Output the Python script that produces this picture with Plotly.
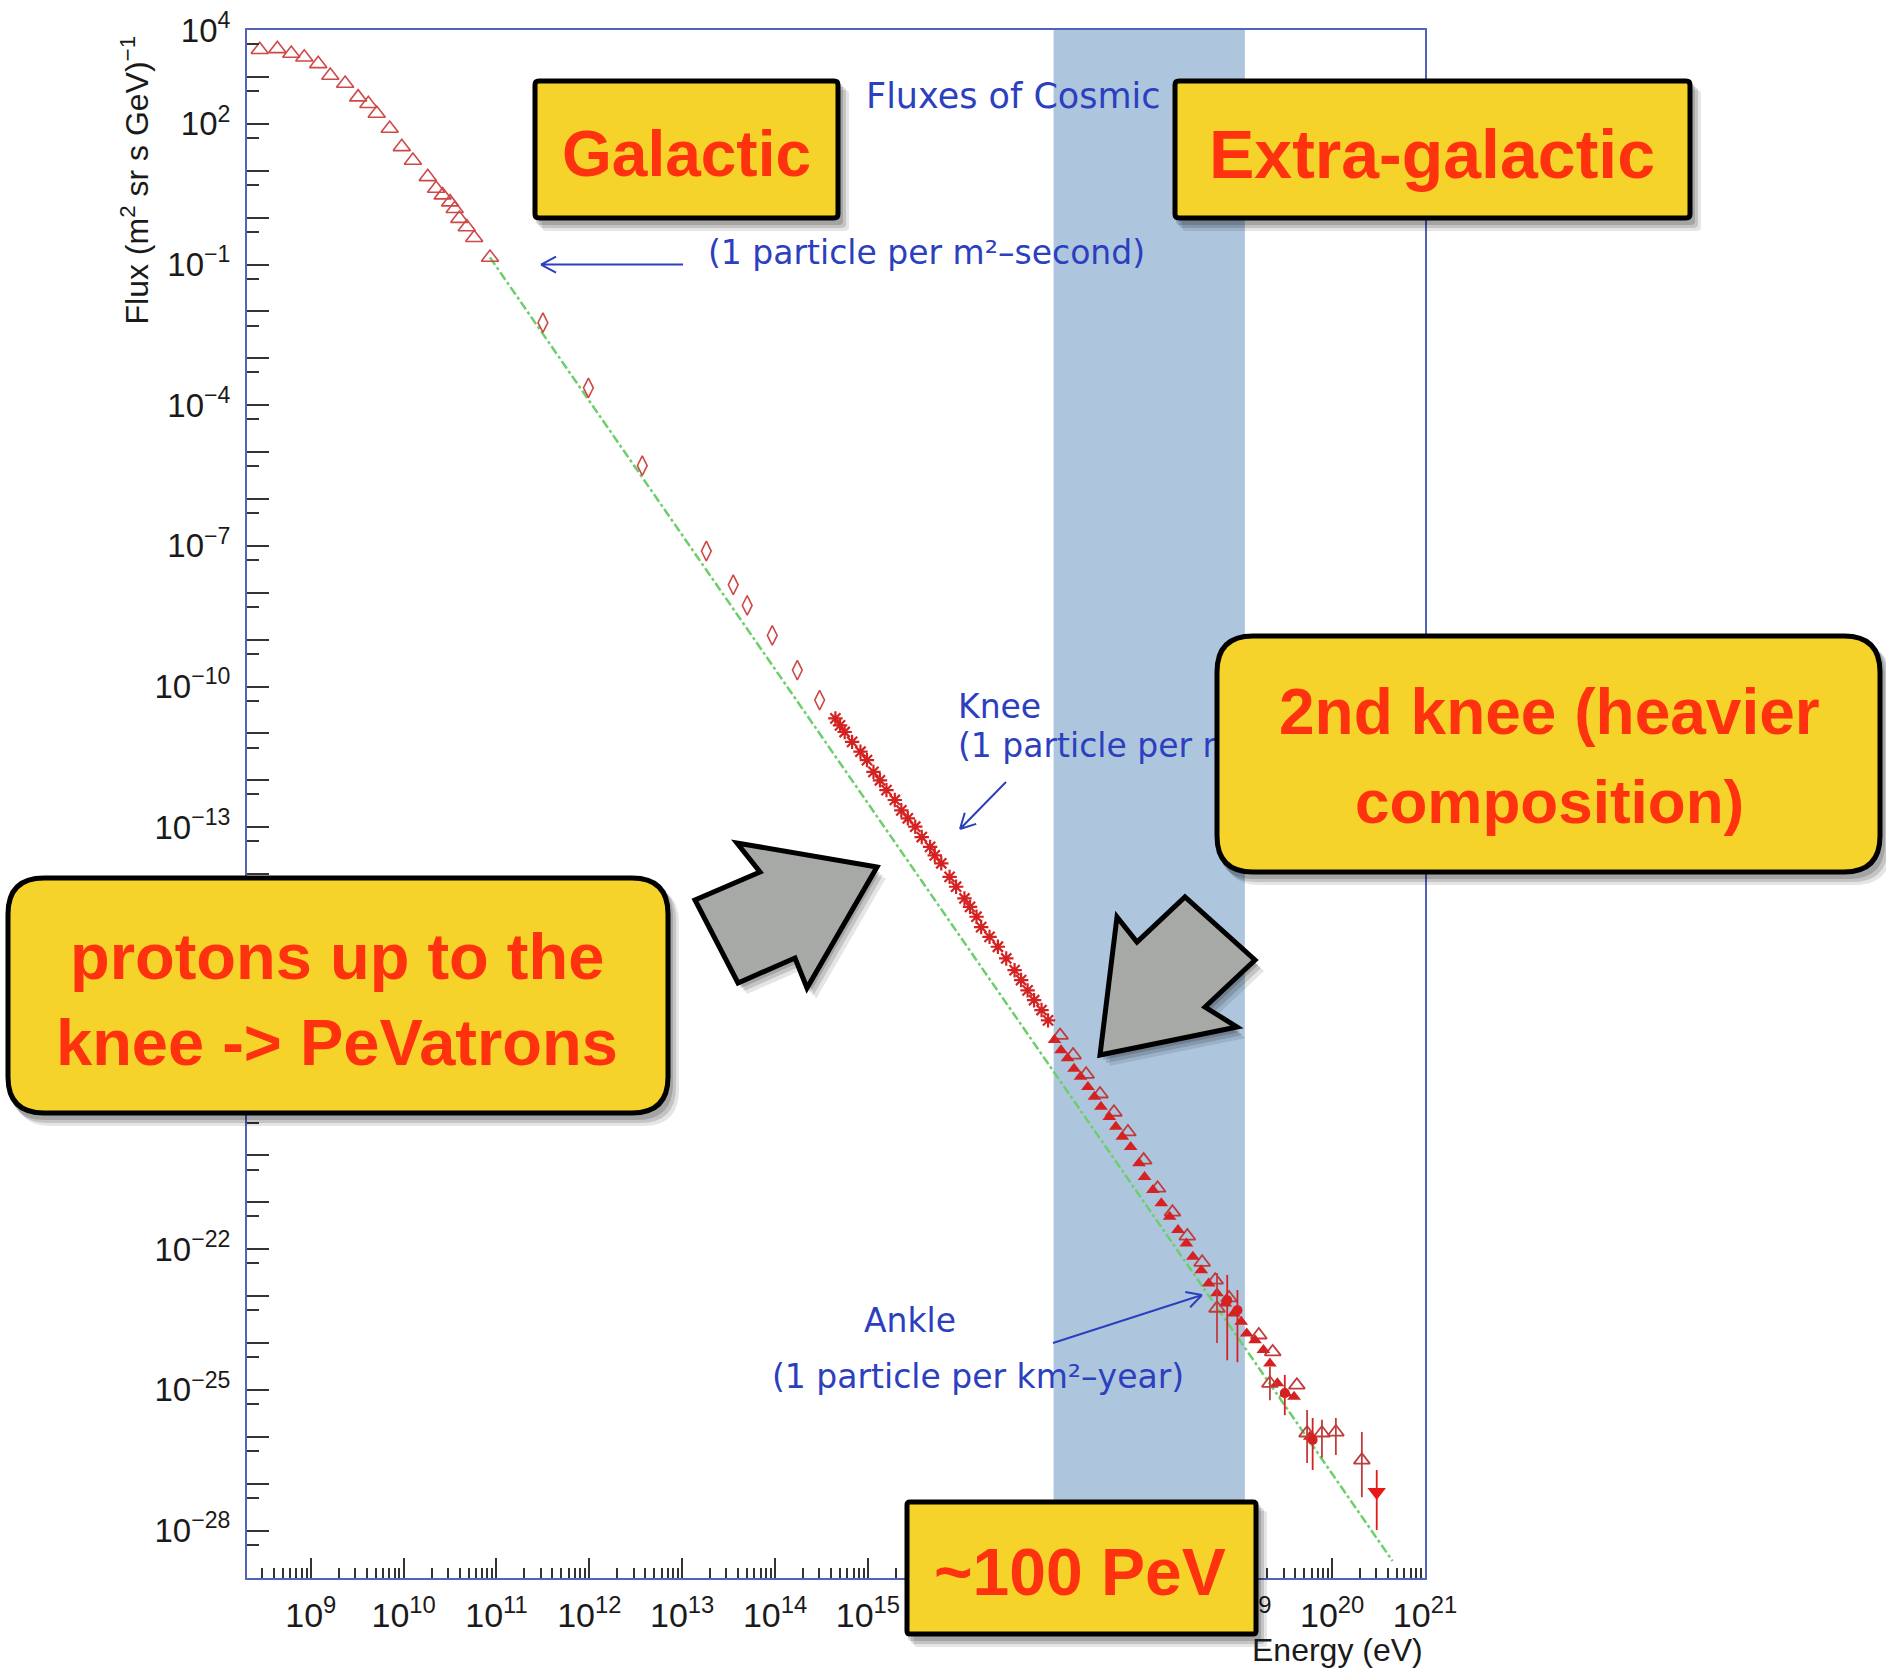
import numpy as np
import plotly.graph_objects as go

# ---------------- measured cosmic-ray spectrum (log10 E[eV], log10 flux) ----------------
# low-energy direct measurements (open triangles)
tri_logE = [8.45, 8.64, 8.79, 8.93, 9.08, 9.21, 9.37, 9.51, 9.62, 9.71, 9.85,
            9.98, 10.10, 10.26, 10.35, 10.42, 10.50, 10.55, 10.60, 10.68, 10.76, 10.93]
tri_logF = [3.58, 3.60, 3.50, 3.42, 3.28, 3.03, 2.86, 2.57, 2.43, 2.22, 1.90,
            1.51, 1.22, 0.87, 0.62, 0.48, 0.33, 0.19, -0.02, -0.20, -0.43, -0.85]

# balloon / satellite data (open diamonds)
dia_logE = [11.50, 11.99, 12.57, 13.26, 13.55, 13.70, 13.97, 14.24, 14.48]
dia_logF = [-2.24, -3.63, -5.29, -7.11, -7.83, -8.27, -8.91, -9.65, -10.29]

# air-shower data around the knee (asterisks)
star_logE = [14.65, 14.70, 14.75, 14.83, 14.92, 14.99, 15.06, 15.13, 15.20, 15.29, 15.36,
             15.43, 15.51, 15.58, 15.67, 15.72, 15.79, 15.88, 15.95, 16.04, 16.10, 16.17,
             16.22, 16.31, 16.40, 16.49, 16.58, 16.65, 16.72, 16.79, 16.87, 16.94]
star_logF = [-10.68, -10.83, -10.97, -11.18, -11.39, -11.57, -11.82, -12.00, -12.21, -12.42, -12.64,
             -12.81, -12.99, -13.21, -13.42, -13.60, -13.77, -14.06, -14.27, -14.52, -14.70, -14.91,
             -15.13, -15.34, -15.55, -15.80, -16.05, -16.26, -16.48, -16.69, -16.90, -17.12]

# second knee region (filled triangles)
kf_logE = [17.01, 17.08, 17.15, 17.22, 17.29, 17.37, 17.44, 17.51, 17.60, 17.67,
           17.74, 17.83, 17.92, 17.98, 18.07, 18.16, 18.25, 18.34, 18.43, 18.50,
           18.59, 18.67, 18.76, 18.85, 18.94, 19.02, 19.08, 19.17, 19.26, 19.33,
           19.41, 19.50, 19.59, 19.76]
kf_logF = [-17.54, -17.76, -17.93, -18.15, -18.32, -18.54, -18.75, -18.96, -19.18, -19.39,
           -19.60, -19.82, -20.17, -20.46, -20.74, -21.02, -21.31, -21.59, -21.88, -22.16,
           -22.45, -22.73, -22.94, -23.16, -23.37, -23.55, -23.80, -23.94, -24.15, -24.44,
           -24.86, -25.08, -25.15, -26.00]

# second knee region (open triangles)
ko_logE = [17.07, 17.21, 17.35, 17.50, 17.65, 17.80, 17.97, 18.12,
           18.28, 18.44, 18.60, 18.74, 18.89, 19.21, 19.36, 19.62]
ko_logF = [-17.44, -17.86, -18.27, -18.69, -19.08, -19.50, -20.10, -20.70,
           -21.21, -21.72, -22.28, -22.66, -23.04, -23.83, -24.19, -24.90]

# highest energies with error bars: open markers
uo_logE = [18.76, 19.33, 19.73, 19.89, 20.04, 20.32]
uo_logF = [-23.26, -24.86, -25.92, -25.92, -25.90, -26.50]
uo_hi = [-22.51, -24.51, -25.43, -25.64, -25.60, -25.90]
uo_lo = [-24.00, -25.22, -26.56, -26.45, -26.39, -27.29]

# highest energies with error bars: filled markers
uf_logE = [18.87, 18.98, 19.49, 19.79]
uf_logF = [-23.09, -23.30, -25.07, -26.07]
uf_hi = [-22.55, -22.87, -24.68, -25.60]
uf_lo = [-24.37, -24.41, -25.54, -26.71]

# highest-energy point
top_logE = [20.48]
top_logF = [-27.18]
top_hi = [-26.71]
top_lo = [-27.99]

# power-law guide line
fit_logE = [10.93, 20.65]
fit_logF = [-0.85, -28.65]

# energy band 10^17 - 10^19 eV
band_logE = [17.0, 19.06]

# tick decades (labels under the callout boxes are not printed)
x_decades = list(range(9, 22))
x_hidden = [16, 17, 18]
y_decades = list(range(-28, 5))
y_labelled = [4] + [k for k in range(2, -29, -3) if k not in (-16, -19)]

# ---------------- page geometry ----------------
W, H = 1886, 1674
PL, PR, PT, PB = 247, 1425, 30, 1578
X_RANGE = (8.313, 21.0)
Y_RANGE = (-29.013, 4.002)


def paper(px, py):
    return (px - PL) / (PR - PL), (PB - py) / (PB - PT)


def to_data(px, py):
    lx = X_RANGE[0] + (px - PL) / (PR - PL) * (X_RANGE[1] - X_RANGE[0])
    ly = Y_RANGE[1] - (py - PT) / (PB - PT) * (Y_RANGE[1] - Y_RANGE[0])
    return 10 ** lx, 10 ** ly


def P(x, y):
    u, v = paper(x, y)
    return f"{u:.5f},{v:.5f}"


def poly_path(pts, dx=0, dy=0):
    s = " ".join(("M" if i == 0 else "L") + P(x + dx, y + dy) for i, (x, y) in enumerate(pts))
    return s + " Z"


def rounded_path(x0, y0, x1, y1, r, dx=0, dy=0):
    x0, x1, y0, y1 = x0 + dx, x1 + dx, y0 + dy, y1 + dy
    return (f"M{P(x0 + r, y0)} L{P(x1 - r, y0)} Q{P(x1, y0)} {P(x1, y0 + r)} "
            f"L{P(x1, y1 - r)} Q{P(x1, y1)} {P(x1 - r, y1)} "
            f"L{P(x0 + r, y1)} Q{P(x0, y1)} {P(x0, y1 - r)} "
            f"L{P(x0, y0 + r)} Q{P(x0, y0)} {P(x0 + r, y0)} Z")


def arrow_path(start, end, head=17, ang=28):
    s, e = np.array(start, float), np.array(end, float)
    d = (s - e) / np.linalg.norm(s - e)
    out = f"M{P(*s)} L{P(*e)}"
    for sgn in (1, -1):
        a = np.radians(sgn * ang)
        rot = np.array([d[0] * np.cos(a) - d[1] * np.sin(a), d[0] * np.sin(a) + d[1] * np.cos(a)])
        h = e + rot * head
        out += f" M{P(*h)} L{P(*e)}"
    return out


def sup(k):
    return f"10<sup>{str(k).replace('-', '−')}</sup>"


def pw(v):
    return [10.0 ** a for a in v]


def errs(val, hi, lo):
    return ([10 ** h - 10 ** v for v, h in zip(val, hi)],
            [10 ** v - 10 ** l for v, l in zip(val, lo)])


RED = "#d42222"
DARK_RED = "#c03c3c"
BLUE = "#2c3fbf"
YELLOW = "#f5d32a"
TXT_RED = "#ff3210"
GREY = "#a7a9a7"

fig = go.Figure()

fig.add_trace(go.Scatter(x=pw(fit_logE), y=pw(fit_logF), mode="lines",
                         line=dict(color="#6ccf6c", width=2.5, dash="dashdot")))
fig.add_trace(go.Scatter(x=pw(tri_logE), y=pw(tri_logF), mode="markers",
                         marker=dict(symbol="triangle-up-open", size=15, color="#cf4848",
                                     line=dict(width=1.6))))
fig.add_trace(go.Scatter(x=pw(dia_logE), y=pw(dia_logF), mode="markers",
                         marker=dict(symbol="diamond-tall-open", size=14, color="#cf4848",
                                     line=dict(width=1.6))))
fig.add_trace(go.Scatter(x=pw(star_logE), y=pw(star_logF), mode="markers",
                         marker=dict(symbol="asterisk-open", size=12, color=RED,
                                     line=dict(width=2.2, color=RED))))
fig.add_trace(go.Scatter(x=pw(ko_logE), y=pw(ko_logF), mode="markers",
                         marker=dict(symbol="triangle-up-open", size=14, color=DARK_RED,
                                     line=dict(width=1.8))))
fig.add_trace(go.Scatter(x=pw(kf_logE), y=pw(kf_logF), mode="markers",
                         marker=dict(symbol="triangle-up", size=12, color=RED)))

up, dn = errs(uo_logF, uo_hi, uo_lo)
fig.add_trace(go.Scatter(x=pw(uo_logE), y=pw(uo_logF), mode="markers",
                         marker=dict(symbol="triangle-up-open", size=14, color=DARK_RED,
                                     line=dict(width=1.8)),
                         error_y=dict(type="data", symmetric=False, array=up, arrayminus=dn,
                                      color=DARK_RED, thickness=1.8, width=0)))
up, dn = errs(uf_logF, uf_hi, uf_lo)
fig.add_trace(go.Scatter(x=pw(uf_logE), y=pw(uf_logF), mode="markers",
                         marker=dict(symbol="circle", size=10, color=RED),
                         error_y=dict(type="data", symmetric=False, array=up, arrayminus=dn,
                                      color=RED, thickness=1.8, width=0)))
up, dn = errs(top_logF, top_hi, top_lo)
fig.add_trace(go.Scatter(x=pw(top_logE), y=pw(top_logF), mode="markers",
                         marker=dict(symbol="triangle-down", size=16, color="#e81818"),
                         error_y=dict(type="data", symmetric=False, array=up, arrayminus=dn,
                                      color="#e81818", thickness=1.8, width=0)))

# blue explanatory labels (kept in the plot layer so the callout boxes cover them)
blue_labels = [
    ("Fluxes of Cosmic Rays", 866, 99, 35),
    ("(1 particle per m²–second)", 708, 256, 33),
    ("Knee", 958, 710, 33),
    ("(1 particle per m²–year)", 958, 749, 33),
    ("Ankle", 864, 1324, 33),
    ("(1 particle per km²–year)", 772, 1380, 33),
]
bx, by = zip(*[to_data(x, y) for _, x, y, _ in blue_labels])
fig.add_trace(go.Scatter(x=list(bx), y=list(by), mode="text",
                         text=[t for t, _, _, _ in blue_labels], textposition="middle right",
                         textfont=dict(family="DejaVu Sans", color=BLUE,
                                       size=[s for _, _, _, s in blue_labels]),
                         cliponaxis=False))

shapes = []
# 10^17 - 10^19 eV band
shapes.append(dict(type="rect", xref="x", yref="paper", x0=10 ** band_logE[0], x1=10 ** band_logE[1],
                   y0=0, y1=1, fillcolor="rgb(173,198,222)", line=dict(width=0), layer="below"))

# blue pointer arrows
for a, b in [((683, 264.6), (541, 264.6)), ((1006, 782), (960, 829)), ((1053, 1343), (1202, 1295))]:
    shapes.append(dict(type="path", xref="paper", yref="paper", path=arrow_path(a, b),
                       line=dict(color=BLUE, width=2), layer="above"))


def add_shadow(builder):
    for (dx, dy, op) in [(9, 11, 0.10), (6, 8, 0.14), (3, 5, 0.16)]:
        shapes.append(dict(type="path", xref="paper", yref="paper", path=builder(dx, dy),
                           fillcolor=f"rgba(0,0,0,{op})", line=dict(width=0), layer="above"))


boxes = [
    (533, 79, 840, 220, 4),
    (1173, 79, 1692, 220, 4),
    (1215, 634, 1882, 874, 36),
    (6, 876, 670, 1115, 36),
    (905, 1500, 1258, 1636, 3),
]
for (x0, y0, x1, y1, r) in boxes:
    add_shadow(lambda dx, dy, a=(x0, y0, x1, y1, r): rounded_path(*a, dx=dx, dy=dy))
    shapes.append(dict(type="path", xref="paper", yref="paper",
                       path=rounded_path(x0 + 2, y0 + 2, x1 - 2, y1 - 2, r),
                       fillcolor=YELLOW, line=dict(color="black", width=5), layer="above"))

grey_arrows = [
    [(877, 867), (737, 843), (760, 872), (695, 900), (738, 983), (795, 958), (807, 988)],
    [(1100, 1055), (1117, 917), (1137, 942), (1185, 897), (1255, 960), (1205, 1007), (1237, 1027)],
]
for pts in grey_arrows:
    add_shadow(lambda dx, dy, p=pts: poly_path(p, dx, dy))
    shapes.append(dict(type="path", xref="paper", yref="paper", path=poly_path(pts),
                       fillcolor=GREY, line=dict(color="black", width=5), layer="above"))

annotations = []
callouts = [
    ("Galactic", 686, 154, 64),
    ("Extra-galactic", 1432, 154, 68),
    ("2nd knee (heavier", 1549, 712, 64),
    ("composition)", 1549, 802, 62),
    ("protons up to the", 337, 956, 65),
    ("knee -&gt; PeVatrons", 337, 1042, 65),
    ("~100 PeV", 1080, 1572, 66),
]
for txt, x, y, fs in callouts:
    u, v = paper(x, y)
    annotations.append(dict(text=f"<b>{txt}</b>", x=u, y=v, xref="paper", yref="paper",
                            xanchor="center", yanchor="middle", showarrow=False,
                            font=dict(family="Liberation Sans", size=fs, color=TXT_RED)))

u, v = paper(1425, 1650)
annotations.append(dict(text="Energy (eV)", x=u, y=v, xref="paper", yref="paper",
                        xanchor="right", yanchor="middle", showarrow=False,
                        font=dict(family="Liberation Sans", size=32, color="#1a1a1a")))
u, v = paper(135, 34)
annotations.append(dict(text="Flux (m<sup>2</sup> sr s GeV)<sup>−1</sup>", x=u, y=v,
                        xref="paper", yref="paper", xanchor="center", yanchor="top",
                        textangle=-90, showarrow=False,
                        font=dict(family="Liberation Sans", size=32, color="#1a1a1a")))

AXIS_BLUE = "#5363b8"
fig.update_layout(
    width=W, height=H, autosize=False,
    margin=dict(l=PL, r=W - PR, t=PT, b=H - PB, pad=0, autoexpand=False),
    paper_bgcolor="white", plot_bgcolor="white",
    showlegend=False, hovermode=False,
    shapes=shapes, annotations=annotations,
    font=dict(family="Liberation Sans", color="#1a1a1a"),
)
fig.update_xaxes(
    type="log", range=list(X_RANGE), showgrid=False, zeroline=False, automargin=False,
    showline=True, linecolor=AXIS_BLUE, linewidth=2, mirror=True,
    tickmode="array", tickvals=[10.0 ** k for k in x_decades],
    ticktext=["" if k in x_hidden else sup(k) for k in x_decades],
    ticks="inside", ticklen=20, tickwidth=2, tickcolor="#333333",
    tickfont=dict(family="Liberation Sans", size=34, color="#1a1a1a"), ticklabelstandoff=6,
    minor=dict(tickmode="array",
               tickvals=[m * 10.0 ** k for k in range(8, 21) for m in range(2, 10)],
               ticks="inside", ticklen=10, tickwidth=2, tickcolor="#333333"),
)
fig.update_yaxes(
    type="log", range=list(Y_RANGE), showgrid=False, zeroline=False, automargin=False,
    showline=True, linecolor=AXIS_BLUE, linewidth=2, mirror=True,
    tickmode="array", tickvals=[10.0 ** k for k in y_decades],
    ticktext=[sup(k) if k in y_labelled else "" for k in y_decades],
    ticks="inside", ticklen=22, tickwidth=2, tickcolor="#333333",
    tickfont=dict(family="Liberation Sans", size=33, color="#1a1a1a"), ticklabelstandoff=8,
    minor=dict(tickmode="array", tickvals=[5 * 10.0 ** k for k in range(-29, 4)],
               ticks="inside", ticklen=12, tickwidth=2, tickcolor="#333333"),
)

fig.write_html("out.html")
